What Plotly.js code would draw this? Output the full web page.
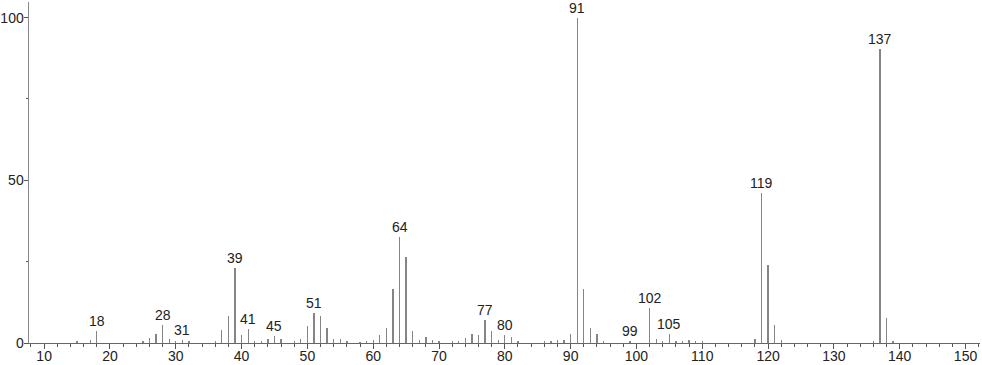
<!DOCTYPE html>
<html>
<head>
<meta charset="utf-8">
<script src="https://cdn.plot.ly/plotly-3.0.1.min.js"></script>
<style>html,body{margin:0;padding:0;background:#fff;}#chart{width:982px;height:365px;}</style>
</head>
<body>
<div id="chart"></div>
<script>
var mz = [15,17,18,25,26,27,28,29,30,31,32,36,37,38,39,40,41,42,43,44,45,46,48,49,50,51,52,53,54,55,56,58,59,60,61,62,63,64,65,66,67,68,69,70,72,73,74,75,76,77,78,79,80,81,82,86,87,88,89,90,91,92,93,94,95,99,102,103,104,105,106,107,108,109,110,118,119,120,121,122,136,137,138,139];
var intensity = [0.6,0.9,3.8,0.6,1.5,2.9,5.6,1.3,0.5,0.9,0.6,0.6,4.0,8.3,22.9,2.4,4.4,0.6,0.6,1.2,2.0,1.2,0.6,1.3,5.3,9.3,8.2,4.5,1.2,1.2,0.6,0.4,0.6,0.9,2.5,4.5,16.7,32.7,26.5,3.8,0.8,1.7,0.8,0.5,0.6,0.6,1.5,2.7,2.5,7.1,3.6,0.8,2.5,1.9,0.6,0.5,0.6,0.8,0.8,2.8,100,16.5,4.5,2.7,0.6,0.5,10.9,1.2,0.5,2.7,0.5,0.5,0.8,0.6,0.5,1.2,46.2,23.9,5.6,0.8,0.6,90.3,7.7,0.7];
var labeledPeaks = [18,28,31,39,41,45,51,64,77,80,91,99,102,105,119,137];
var xTickVals = [10,20,30,40,50,60,70,80,90,100,110,120,130,140,150];
var yTickVals = [0,50,100];

var FONT = 'Liberation Sans, Arial, sans-serif';
var annotations = labeledPeaks.map(function(m){
  var i = mz.indexOf(m);
  return {x: m, y: intensity[i], xref: 'x', yref: 'y', text: String(m), showarrow: false,
          yanchor: 'bottom', xanchor: 'center', yshift: 0,
          font: {family: FONT, size: 14, color: '#222'}};
});

var trace = {type: 'bar', x: mz, y: intensity, width: 0.2,
  marker: {color: '#858585', line: {width: 0}}, hoverinfo: 'x+y'};

var layout = {
  width: 982, height: 365,
  margin: {l: 29, r: 2, t: 2, b: 22, pad: 0},
  paper_bgcolor: '#fff', plot_bgcolor: '#fff',
  showlegend: false, bargap: 0,
  font: {family: FONT, size: 14, color: '#222'},
  xaxis: {range: [7.7, 152.2], tickvals: xTickVals, ticktext: xTickVals.map(String),
    ticks: 'outside', ticklen: 5, tickwidth: 1, tickcolor: '#555', ticklabelstandoff: -5,
    showline: true, linecolor: '#666', linewidth: 1, showgrid: false, zeroline: false,
    minor: {dtick: 2, tick0: 0, ticks: 'outside', ticklen: 3, tickcolor: '#555', showgrid: false},
    tickfont: {family: FONT, size: 14, color: '#222'}, fixedrange: true},
  yaxis: {range: [0, 104.8], tickvals: yTickVals, ticktext: yTickVals.map(String),
    ticks: 'outside', ticklen: 4, tickwidth: 1, tickcolor: '#555', ticklabelstandoff: -3,
    showline: true, linecolor: '#888', linewidth: 1.5, showgrid: false, zeroline: false,
    minor: {dtick: 25, tick0: 0, ticks: 'outside', ticklen: 2, tickcolor: '#555', showgrid: false},
    tickfont: {family: FONT, size: 14, color: '#222'}, fixedrange: true},
  annotations: annotations
};

Plotly.newPlot('chart', [trace], layout, {displayModeBar: false, staticPlot: true});
</script>
</body>
</html>
